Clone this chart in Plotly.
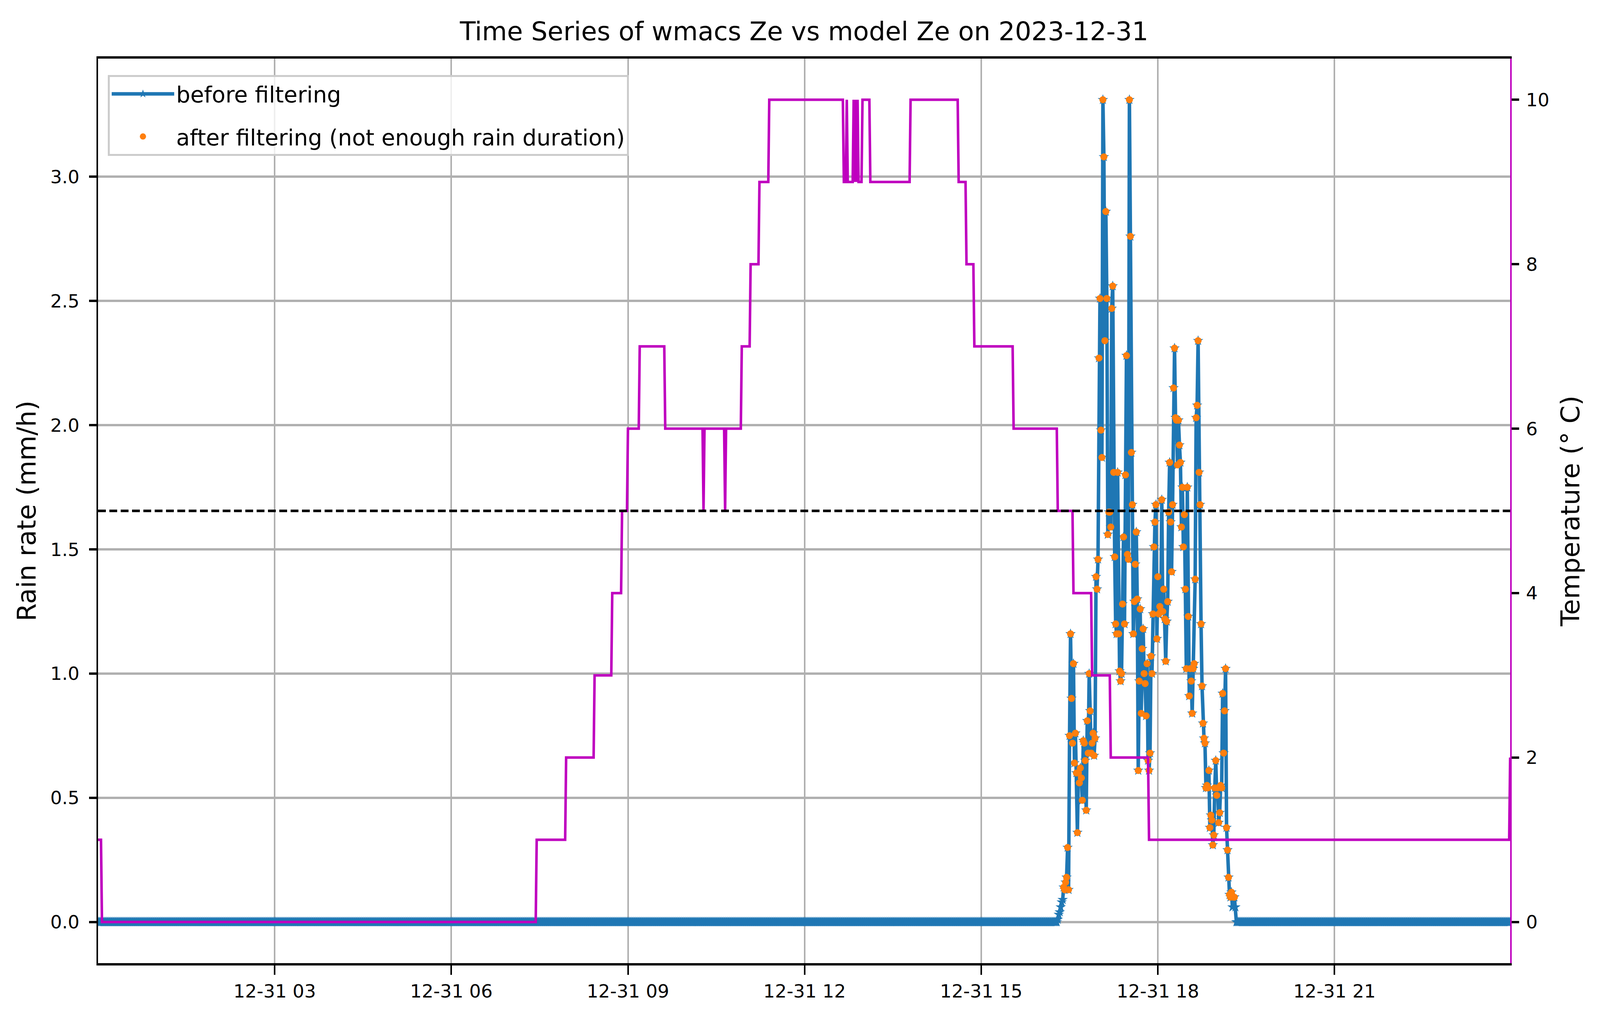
import pandas as pd
import plotly.graph_objects as go

DAY = "2023-12-31"

# rain rate (mm/h), one value per minute; zero outside this event
rain_event_start = "16:18"
rain_event_values = [
    0.01, 0.03, 0.04, 0.06, 0.08, 0.09, 0.14, 0.13, 0.16, 0.18,
    0.30, 0.13, 0.75, 1.16, 0.90, 0.72, 1.04, 0.64, 0.76, 0.60,
    0.36, 0.60, 0.56, 0.62, 0.58, 0.49, 0.73, 0.72, 0.65, 0.45,
    0.81, 0.68, 1.00, 0.85, 0.68, 0.72, 0.76, 0.67, 0.74, 1.39,
    1.34, 1.46, 2.27, 2.51, 1.98, 1.87, 3.31, 3.08, 2.34, 2.86,
    2.51, 1.56, 1.65, 1.65, 1.59, 2.47, 2.56, 1.81, 1.47, 1.20,
    1.16, 1.81, 1.16, 1.01, 0.97, 1.00, 1.28, 1.55, 1.20, 1.80,
    2.28, 1.48, 1.46, 3.31, 2.76, 1.89, 1.68, 1.16, 1.29, 1.44,
    1.57, 1.30, 0.61, 0.97, 1.26, 0.84, 1.10, 1.18, 1.00, 0.96,
    0.83, 1.04, 0.65, 0.61, 0.68, 1.07, 1.00, 1.24, 1.51, 1.61,
    1.68, 1.14, 1.39, 1.24, 1.27, 1.25, 1.70, 1.25, 1.34, 1.22,
    1.05, 1.21, 1.29, 1.65, 1.85, 1.61, 1.41, 1.68, 2.15, 2.31,
    2.03, 2.02, 1.84, 2.02, 1.92, 1.85, 1.59, 1.75, 1.51, 1.64,
    1.34, 1.02, 1.75, 1.23, 0.91, 1.02, 0.97, 0.84, 1.02, 1.04,
    1.38, 2.03, 2.08, 2.34, 1.81, 1.68, 1.20, 0.95, 0.80, 0.74,
    0.72, 0.54, 0.55, 0.54, 0.61, 0.38, 0.43, 0.41, 0.31, 0.35,
    0.54, 0.65, 0.51, 0.54, 0.40, 0.44, 0.55, 0.54, 0.92, 0.68,
    0.85, 1.02, 0.38, 0.29, 0.18, 0.11, 0.10, 0.12, 0.06, 0.10,
    0.10, 0.06,
]
filter_threshold = 0.1

# temperature (deg C), vertices of the minute series
temp_times = [
    "00:00", "00:03", "00:04", "07:26", "07:27", "07:56", "07:57", "08:25",
    "08:26", "08:43", "08:44", "08:53", "08:54", "08:59", "09:00", "09:11",
    "09:12", "09:37", "09:38", "10:16", "10:17", "10:18", "10:38", "10:39",
    "10:40", "10:55", "10:56", "11:04", "11:05", "11:13", "11:14", "11:23",
    "11:24", "12:39", "12:40", "12:42", "12:43", "12:44", "12:49", "12:50",
    "12:51", "12:52", "12:53", "12:54", "12:55", "12:58", "12:59", "13:06",
    "13:07", "13:47", "13:48", "14:36", "14:37", "14:44", "14:45", "14:52",
    "14:53", "15:32", "15:33", "16:17", "16:18", "16:33", "16:34", "16:52",
    "16:53", "17:11", "17:12", "17:50", "17:51", "23:58", "23:59",
]
temp_values = [
    1, 1, 0, 0, 1, 1, 2, 2,
    3, 3, 4, 4, 5, 5, 6, 6,
    7, 7, 6, 6, 5, 6, 6, 5,
    6, 6, 7, 7, 8, 8, 9, 9,
    10, 10, 9, 9, 10, 9, 9, 10,
    9, 10, 9, 10, 9, 9, 10, 10,
    9, 9, 10, 10, 9, 9, 8, 8,
    7, 7, 6, 6, 5, 5, 4, 4,
    3, 3, 2, 2, 1, 1, 2,
]
temp_threshold = 5

x_ticks = ["03:00", "06:00", "09:00", "12:00", "15:00", "18:00", "21:00"]
rain_ticks = [0.0, 0.5, 1.0, 1.5, 2.0, 2.5, 3.0]
temp_ticks = [0, 2, 4, 6, 8, 10]

minutes = pd.date_range(f"{DAY} 00:00", f"{DAY} 23:59", freq="min")
rain = pd.Series(0.0, index=minutes)
start = pd.Timestamp(f"{DAY} {rain_event_start}")
rain.loc[start:start + pd.Timedelta(minutes=len(rain_event_values) - 1)] = rain_event_values
after = rain[rain >= filter_threshold]
temp_x = pd.to_datetime([f"{DAY} {t}" for t in temp_times])

FONT = "DejaVu Sans"
GRID = "#b0b0b0"
MAGENTA = "#bf00bf"

fig = go.Figure()
fig.add_trace(go.Scatter(
    x=minutes, y=rain.values, mode="lines+markers", name="before filtering",
    legendgroup="a",
    line=dict(color="#1f77b4", width=9),
    marker=dict(symbol="star", size=20, color="#1f77b4"),
))
fig.add_trace(go.Scatter(
    x=after.index, y=after.values, mode="markers",
    name="after filtering (not enough rain duration)", legendgroup="b",
    marker=dict(symbol="circle", size=18, color="#ff7f0e"),
))
fig.add_trace(go.Scatter(
    x=temp_x, y=temp_values, mode="lines", yaxis="y2", showlegend=False,
    line=dict(color=MAGENTA, width=6.5),
))

fig.add_shape(type="line", xref="paper", x0=0, x1=1, yref="y2",
              y0=temp_threshold, y1=temp_threshold, layer="above",
              line=dict(color="black", width=6.5, dash="20px,9px"))

tick_font = dict(size=47, color="black", family=FONT)

fig.update_layout(
    autosize=True,
    paper_bgcolor="white", plot_bgcolor="white",
    margin=dict(l=251, r=230, t=150, b=166),
    font=dict(family=FONT, color="black"),
    title=dict(text=f"Time Series of wmacs Ze vs model Ze on {DAY}",
               x=0.5, xanchor="center", xref="paper",
               y=1 - 80 / 2631, yref="container", yanchor="middle",
               font=dict(size=66, family=FONT, color="black")),
    xaxis=dict(
        type="date", range=[minutes[0], minutes[-1]],
        tickvals=[f"{DAY} {t}" for t in x_ticks], tickformat="%m-%d %H",
        showgrid=True, gridcolor=GRID, gridwidth=4.4, zeroline=False,
        showline=True, linecolor="black", linewidth=5.6, mirror=True,
        ticks="outside", ticklen=24, tickwidth=4.4, tickcolor="black",
        tickfont=tick_font, ticklabelstandoff=2,
    ),
    yaxis=dict(
        range=[-0.1655, 3.4755], tickvals=rain_ticks, tickformat=".1f",
        showgrid=True, gridcolor=GRID, gridwidth=5.6, zeroline=False,
        showline=True, linecolor="black", linewidth=4.4,
        ticks="outside", ticklen=19, tickwidth=5.6, tickcolor="black",
        tickfont=tick_font, ticklabelstandoff=15,
        title=dict(text="Rain rate (mm/h)", font=dict(size=66, family=FONT), standoff=17),
    ),
    yaxis2=dict(
        overlaying="y", side="right", range=[-0.5, 10.5], tickvals=temp_ticks,
        showgrid=False, zeroline=False,
        showline=True, linecolor=MAGENTA, linewidth=4.4,
        ticks="outside", ticklen=19, tickwidth=5.6, tickcolor="black",
        tickfont=tick_font, ticklabelstandoff=8,
        title=dict(text="Temperature (° C)", font=dict(size=66, family=FONT), standoff=32),
    ),
    legend=dict(
        x=0.0069, y=0.982, xanchor="left", yanchor="top",
        bgcolor="rgba(255,255,255,0.8)", bordercolor="#cccccc", borderwidth=5,
        font=dict(size=57, family=FONT, color="black"),
        itemwidth=160, tracegroupgap=32,
    ),
)

# the figure fills the browser viewport; drop the page margin and scrollbars
fit_js = (
    "document.body.style.margin='0';"
    "document.documentElement.style.overflow='hidden';"
    "window.dispatchEvent(new Event('resize'));"
)

fig.write_html("out.html", post_script=fit_js,
               default_width="100vw", default_height="100vh",
               config={"displayModeBar": False, "responsive": True})
